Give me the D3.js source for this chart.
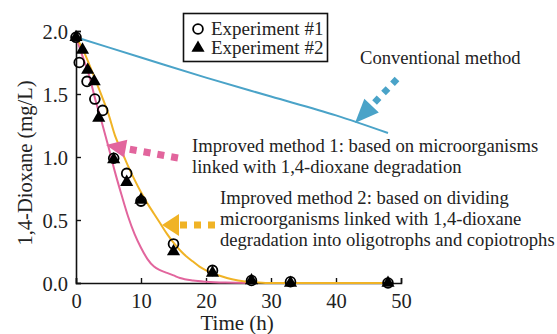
<!DOCTYPE html>
<html>
<head>
<meta charset="utf-8">
<script src="https://cdn.jsdelivr.net/npm/d3@7"></script>
<style>
  body { margin: 0; background: #fff; }
  svg text { font-family: 'Liberation Serif', 'Times New Roman', serif; fill: #222; }
</style>
</head>
<body>
<svg class="dioxane" width="557" height="334"></svg>
<script>
// measured series
const exp1Time = [0, 0.5, 1.7, 2.9, 4.1, 5.8, 7.8, 10, 15, 21, 27, 33, 48];
const exp1Conc = [1.95, 1.75, 1.60, 1.46, 1.37, 0.99, 0.87, 0.65, 0.31, 0.10, 0.02, 0.01, 0.0];

const exp2Time = [0, 1.0, 1.8, 2.8, 3.5, 5.8, 7.8, 10, 15, 21, 27, 33, 48];
const exp2Conc = [1.95, 1.85, 1.69, 1.60, 1.31, 0.98, 0.80, 0.66, 0.25, 0.08, 0.02, 0.0, 0.0];

// model curves
const convTime = [0, 10, 20, 30, 40, 48];
const convConc = [1.95, 1.79, 1.63, 1.48, 1.33, 1.19];

const imp1Time = [0, 1, 2, 3, 4, 5, 6, 7, 8, 9, 10, 11, 12, 13, 14, 15, 16, 18, 20, 23, 27];
const imp1Conc = [1.95, 1.80, 1.65, 1.45, 1.27, 1.08, 0.88, 0.70, 0.53, 0.39, 0.28, 0.19, 0.13, 0.10, 0.08, 0.06, 0.04, 0.02, 0.01, 0.003, 0];

const imp2Time = [0, 1, 2, 3, 4, 5, 6, 7, 8, 9, 10, 11, 12, 13, 14, 15, 16, 17, 18, 19, 20, 22, 24, 26, 28, 30, 48];
const imp2Conc = [1.95, 1.86, 1.74, 1.61, 1.48, 1.34, 1.17, 1.05, 0.93, 0.82, 0.72, 0.63, 0.55, 0.47, 0.39, 0.32, 0.26, 0.21, 0.17, 0.13, 0.10, 0.06, 0.03, 0.012, 0.004, 0, 0];

const xTicks = [0, 10, 20, 30, 40, 50];
const yTicks = [0.0, 0.5, 1.0, 1.5, 2.0];

const legendLabels = ['Experiment #1', 'Experiment #2'];

const colBlue = '#4aa3c8';
const colPink = '#e2659d';
const colYellow = '#f0b325';

function drawChart(){
  const svg = d3.select('svg.dioxane');
  const plot = { left: 76, right: 401, top: 31, bottom: 283 };

  const x = d3.scaleLinear().domain([0, 50]).range([plot.left, plot.right]);
  const y = d3.scaleLinear().domain([0, 2]).range([plot.bottom, plot.top]);

  const zip = (ts, vs) => ts.map((t, i) => [t, vs[i]]);

  // axes: ticks point inward
  const xAxis = d3.axisBottom(x).tickValues(xTicks).tickSize(-5).tickPadding(10).tickFormat(d3.format('d'));
  const yAxis = d3.axisLeft(y).tickValues(yTicks).tickSize(-5).tickPadding(8).tickFormat(d3.format('.1f'));

  const gx = svg.append('g')
    .attr('class', 'x-axis')
    .attr('transform', `translate(0, ${plot.bottom})`)
    .call(xAxis);
  const gy = svg.append('g')
    .attr('class', 'y-axis')
    .attr('transform', `translate(${plot.left}, 0)`)
    .call(yAxis);

  [gx, gy].forEach(g => {
    g.select('.domain').attr('stroke', '#111').attr('stroke-width', 1.6);
    g.selectAll('.tick line').attr('stroke', '#111').attr('stroke-width', 1.4);
    g.selectAll('.tick text')
      .style('font-family', "'Liberation Serif', serif")
      .style('font-size', '20.5px')
      .attr('fill', '#222');
  });
  gy.selectAll('.tick text').attr('dy', '0.36em');
  gx.selectAll('.tick text').attr('dy', '0.72em');

  // axis titles
  svg.append('text')
    .attr('x', x(24.8))
    .attr('y', 330)
    .attr('text-anchor', 'middle')
    .style('font-size', '21px')
    .text('Time (h)');

  svg.append('text')
    .attr('transform', `translate(32, ${(plot.top + plot.bottom) / 2 + 6}) rotate(-90)`)
    .attr('text-anchor', 'middle')
    .style('font-size', '20.5px')
    .text('1,4-Dioxane (mg/L)');

  // model curves
  const line = d3.line()
    .x(d => x(d[0]))
    .y(d => y(d[1]))
    .curve(d3.curveMonotoneX);

  const curves = [
    { data: zip(convTime, convConc), col: colBlue },
    { data: zip(imp1Time, imp1Conc), col: colPink },
    { data: zip(imp2Time, imp2Conc), col: colYellow }
  ];

  svg.append('g')
    .attr('class', 'curves')
    .selectAll('path')
    .data(curves)
    .enter()
    .append('path')
    .attr('d', d => line(d.data))
    .attr('fill', 'none')
    .attr('stroke', d => d.col)
    .attr('stroke-width', 2);

  // markers
  svg.append('g')
    .attr('class', 'exp1')
    .selectAll('circle')
    .data(zip(exp1Time, exp1Conc))
    .enter()
    .append('circle')
    .attr('cx', d => x(d[0]))
    .attr('cy', d => y(d[1]))
    .attr('r', 4.9)
    .attr('fill', 'none')
    .attr('stroke', '#000')
    .attr('stroke-width', 1.8);

  const tri = d3.symbol().type(d3.symbolTriangle).size(75);
  svg.append('g')
    .attr('class', 'exp2')
    .selectAll('path')
    .data(zip(exp2Time, exp2Conc))
    .enter()
    .append('path')
    .attr('d', tri)
    .attr('transform', d => `translate(${x(d[0])}, ${y(d[1])})`)
    .attr('fill', '#000');

  // legend
  const leg = svg.append('g').attr('class', 'legend');
  leg.append('rect')
    .attr('x', 183.5)
    .attr('y', 13.5)
    .attr('width', 144)
    .attr('height', 48)
    .attr('fill', '#fff')
    .attr('stroke', '#111')
    .attr('stroke-width', 1.6);
  leg.append('circle')
    .attr('cx', 198)
    .attr('cy', 29)
    .attr('r', 4.9)
    .attr('fill', 'none')
    .attr('stroke', '#000')
    .attr('stroke-width', 1.8);
  leg.append('path')
    .attr('d', tri)
    .attr('transform', 'translate(198, 48)')
    .attr('fill', '#000');
  leg.selectAll('text')
    .data(legendLabels)
    .enter()
    .append('text')
    .attr('x', 211)
    .attr('y', (d, i) => 35 + i * 19)
    .style('font-size', '19px')
    .text(d => d);

  // annotations with dotted arrows
  function dottedArrow(from, to, col, headLen, headHalf, dash){
    const dx = to[0] - from[0];
    const dy = to[1] - from[1];
    const len = Math.hypot(dx, dy);
    const ux = dx / len, uy = dy / len;
    const bx = to[0] - ux * headLen, by = to[1] - uy * headLen;
    svg.append('line')
      .attr('x1', from[0]).attr('y1', from[1])
      .attr('x2', bx).attr('y2', by)
      .attr('stroke', col)
      .attr('stroke-width', dash)
      .attr('stroke-dasharray', `${dash} ${dash}`);
    svg.append('path')
      .attr('d', `M${to[0]},${to[1]}L${bx - uy * headHalf},${by + ux * headHalf}L${bx + uy * headHalf},${by - ux * headHalf}Z`)
      .attr('fill', col);
  }

  dottedArrow([397, 79], [355, 123], colBlue, 24, 10, 6.5);
  dottedArrow([178, 158], [106, 145], colPink, 20, 9, 7);
  dottedArrow([215, 225], [162, 225], colYellow, 17, 11, 7);

  const notes = [
    { x: 360, y: 64, lines: ['Conventional method'] },
    { x: 192, y: 152, lines: ['Improved method 1: based on microorganisms', 'linked with 1,4-dioxane degradation'] },
    { x: 220, y: 204, lines: ['Improved method 2: based on dividing', 'microorganisms linked with 1,4-dioxane', 'degradation into oligotrophs and copiotrophs'] }
  ];

  notes.forEach(n => {
    svg.append('text')
      .attr('x', n.x)
      .attr('y', n.y)
      .style('font-size', '18.6px')
      .selectAll('tspan')
      .data(n.lines)
      .enter()
      .append('tspan')
      .attr('x', n.x)
      .attr('dy', (d, i) => i === 0 ? 0 : 21)
      .text(d => d);
  });
}

drawChart();
</script>
</body>
</html>
